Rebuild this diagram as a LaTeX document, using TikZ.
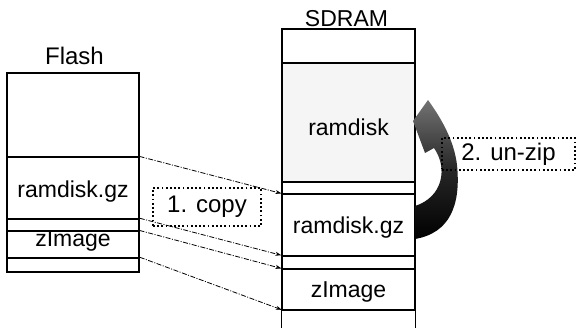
\documentclass[tikz,border=0pt]{standalone}
\usepackage{fontspec}
\setmainfont{Liberation Sans}
\usetikzlibrary{arrows.meta}
\begin{document}
\begin{tikzpicture}[x=1pt,y=-1pt,
  cell/.style={draw=black,line width=1.1pt,inner sep=0pt,minimum width=#1},
  lbl/.style={font=\fontsize{23}{26}\selectfont,inner sep=0pt},
  copyarrow/.style={line width=0.8pt,dash pattern=on 5pt off 1.5pt on 1pt off 1.5pt,-{Stealth[length=6pt,width=4pt]}},
  dotbox/.style={draw=black,line width=1.8pt,dash pattern=on 1.8pt off 2.4pt,inner sep=0pt,font=\fontsize{24}{27}\selectfont}]
\useasboundingbox (0,0) rectangle (577,328);
% Flash
\node[inner sep=0pt,font=\fontsize{24}{27}\selectfont] (flashT) at (74.5,55.5) {Flash};
\node[cell=132pt,minimum height=84pt] (f0) at (73,115) {};
\node[cell=132pt,minimum height=62pt] (f1) at (73,188) {};
\node[cell=132pt,minimum height=12pt,line width=1.5pt] (f2) at (73,225) {};
\node[cell=132pt,minimum height=27pt] (f3) at (73,244.5) {};
\node[cell=132pt,minimum height=14pt,line width=1.5pt] (f4) at (73,265) {};
\node[lbl] (f1t) at (73,192) {ramdisk.gz};
\node[lbl] (f3t) at (73,241) {zImage};
% SDRAM
\node[inner sep=0pt,font=\fontsize{23}{26}\selectfont] (sdT) at (346.5,19) {SDRAM};
\node[cell=133pt,minimum height=34pt] (s0) at (348.5,46) {};
\node[cell=133pt,minimum height=119pt,fill=black!4] (s1) at (348.5,122.5) {};
\node[cell=133pt,minimum height=12pt,line width=1.5pt] (s2) at (348.5,188) {};
\node[cell=133pt,minimum height=62pt] (s3) at (348.5,225) {};
\node[cell=133pt,minimum height=13pt,line width=1.5pt] (s4) at (348.5,262.5) {};
\node[cell=133pt,minimum height=41pt] (s5) at (348.5,289.5) {};
\node[inner sep=0pt,minimum width=133pt,minimum height=18pt] (s6) at (348.5,319) {};
\draw[line width=1.1pt] (s6.north west) -- (s6.south west) (s6.north east) -- (s6.south east);
\node[lbl] (s1t) at (348.5,127) {ramdisk};
\node[lbl] (s3t) at (348.5,228) {ramdisk.gz};
\node[lbl] (s5t) at (348.5,292) {zImage};
% copy arrows
\draw[copyarrow] (f1.north east) -- (s3.north west);
\draw[copyarrow] (f2.north east) -- (s4.north west);
\draw[copyarrow] (f3.north east) -- (s5.north west);
\draw[copyarrow] (f4.north east) -- (s6.north west);
% un-zip curved arrow
\shade[top color=black!55,bottom color=black,middle color=black!85]
  (415,239) .. controls (450,233) and (461,205) .. (457,165)
  .. controls (454,140) and (441,118) .. (428,100)
  -- (413,121) -- (425,153) -- (434,148)
  .. controls (448,168) and (443,197) .. (415,206) -- cycle;
% labels in dotted boxes
\node[dotbox,minimum width=108pt,minimum height=38pt] (copy) at (207,207) {1. copy};
\node[dotbox,minimum width=133pt,minimum height=32pt] (unzip) at (508.5,154) {2. un-zip};
\end{tikzpicture}
\end{document}
